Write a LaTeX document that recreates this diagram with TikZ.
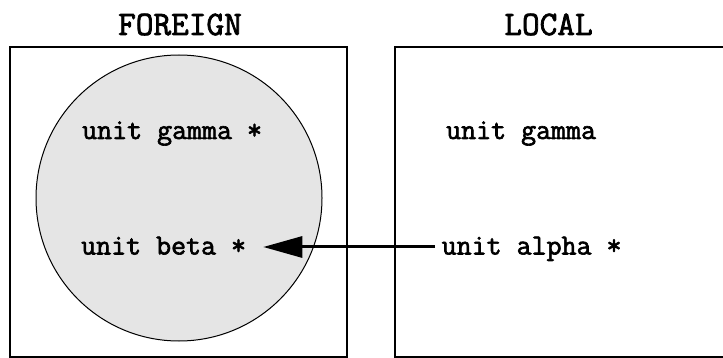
\documentclass[tikz,border=0pt]{standalone}
\usepackage{fontspec}
\newfontfamily\unitfont{Latin Modern Mono}[FakeBold=2.2]
\usetikzlibrary{arrows.meta}
\tikzset{
  panel/.style={draw=black, line width=2pt, anchor=north west, minimum width=337pt, minimum height=310pt, inner sep=0pt},
  titletext/.style={font=\unitfont\fontsize{34.3}{40}\selectfont, anchor=base, inner sep=0pt},
  unittext/.style={font=\unitfont\fontsize{29.1}{34}\selectfont, anchor=base west, inner sep=0pt},
  cloud/.style={circle, draw=black, line width=1pt, fill=black!10, minimum size=286pt, inner sep=0pt},
  importarrow/.style={line width=3pt, -{Triangle[length=39pt, width=21pt]}}
}
\begin{document}
\begin{tikzpicture}[x=1pt, y=-1pt]
  \useasboundingbox (0,0) rectangle (723,358);
  \clip (0,0) rectangle (723,358);
  \node[panel] (foreign) at (9,46) {};
  \node[panel] (local) at (394,46) {};
  \node[cloud] (set) at (179,198) {};
  \node[titletext] (ftitle) at (180,35) {FOREIGN};
  \node[titletext] (ltitle) at (548.5,35) {LOCAL};
  \node[unittext] (fgamma) at (82,139) {unit gamma *};
  \node[unittext] (lgamma) at (446,139) {unit gamma};
  \node[unittext] (beta) at (81,254.5) {unit beta *};
  \node[unittext] (alpha) at (441.5,254.5) {unit alpha *};
  \draw[importarrow] ([xshift=-6.5pt, yshift=7.5pt]alpha.base west) -- ([xshift=17pt, yshift=7.5pt]beta.base east);
\end{tikzpicture}
\end{document}
